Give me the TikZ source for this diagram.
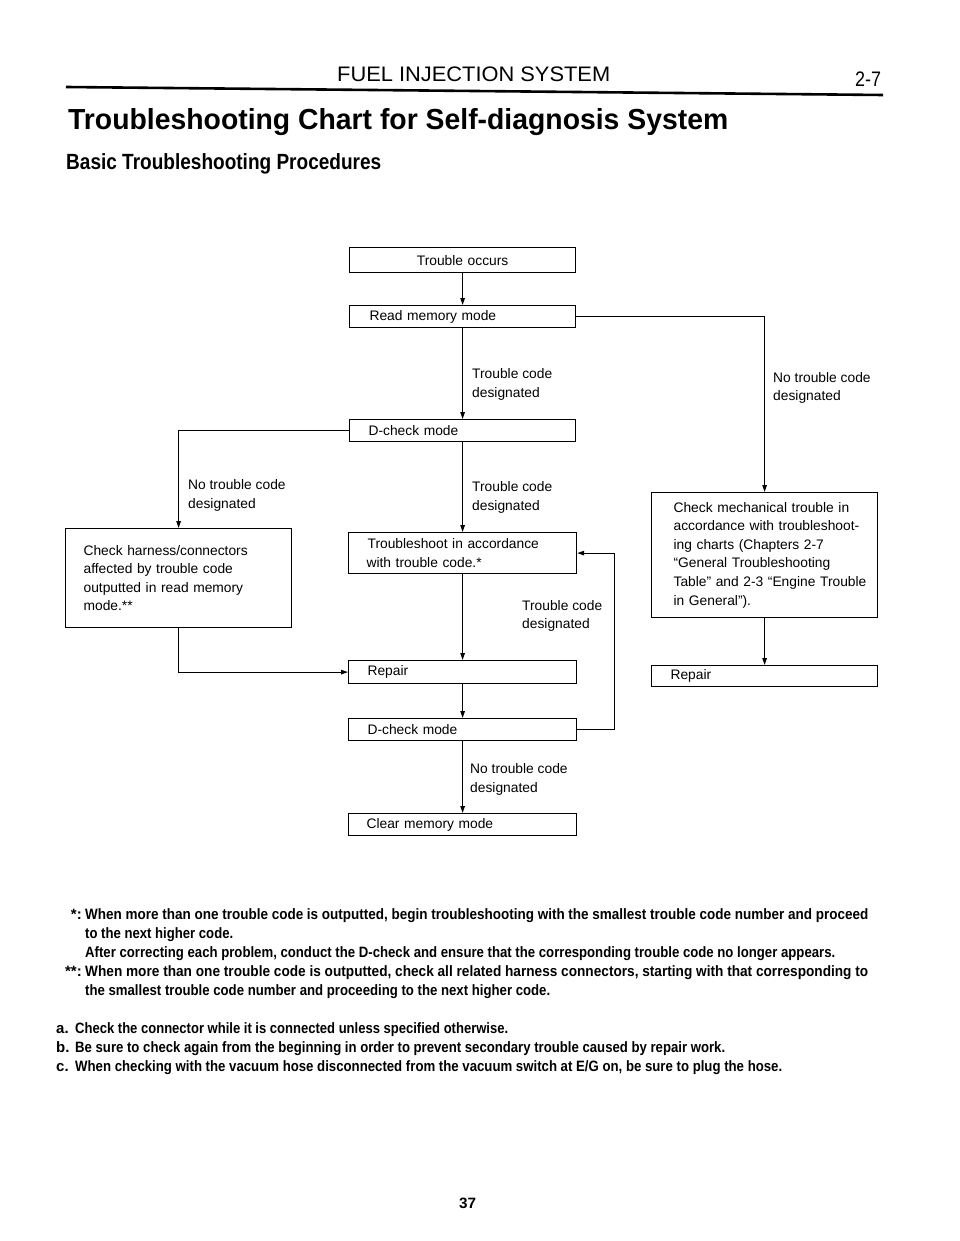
\documentclass[tikz,border=0pt]{standalone}
\usepackage{fontspec}
\setmainfont{Liberation Sans}
\usepackage{graphicx}
\usetikzlibrary{arrows.meta}
\newcommand\fitw[2]{\resizebox{#1pt}{\height}{#2}}
\newcommand\ind[1]{\hspace*{#1pt}}
\begin{document}
\begin{tikzpicture}[x=1pt,y=-1pt,
  box/.style={draw, line width=1.2pt, anchor=north west, inner sep=0pt, align=left,
              font=\fontsize{13.8}{18.6}\selectfont},
  arr/.style={line width=1.2pt, -{Triangle[length=7pt,width=4.5pt]}},
  lbl/.style={anchor=base west, inner sep=0pt, font=\fontsize{13.8}{18.6}\selectfont},
  fn/.style={anchor=base west, inner sep=0pt, font=\fontsize{15}{19}\selectfont\bfseries},
  head/.style={anchor=base west, inner sep=0pt}]
\fill[white] (0,0) rectangle (960,1241);
\useasboundingbox (0,0) rectangle (960,1241);

% header
\node[head, font=\fontsize{21}{21}\selectfont] (hdr) at (337,82) {\fitw{273}{FUEL INJECTION SYSTEM}};
\node[head, font=\fontsize{21}{21}\selectfont] (pg) at (855,87) {\fitw{26}{2-7}};
\coordinate (rl) at (66,87);
\coordinate (rr) at (883,95);
\draw[line width=2.6pt] (rl) -- (rr);
\node[head, font=\fontsize{29}{29}\selectfont\bfseries] (ttl) at (68,130) {\fitw{660}{Troubleshooting Chart for Self-diagnosis System}};
\node[head, font=\fontsize{22}{22}\selectfont\bfseries] (sub) at (66,170) {\fitw{315}{Basic Troubleshooting Procedures}};

% boxes
\node[box, text width=226pt, minimum height=25pt, align=center] (occ) at (349,247) {Trouble occurs};
\node[box, text width=226pt, minimum height=22pt] (rmm) at (349,305) {\ind{20}Read memory mode};
\node[box, text width=226pt, minimum height=22pt] (dc1) at (349,419) {\ind{19}D-check mode};
\node[box, text width=228pt, minimum height=41pt] (ts) at (348,532) {\ind{19}Troubleshoot in accordance\\\ind{18}with trouble code.*};
\node[box, text width=228pt, minimum height=23pt] (rep1) at (348,660) {\ind{19}Repair};
\node[box, text width=228pt, minimum height=22pt] (dc2) at (348,718) {\ind{19}D-check mode};
\node[box, text width=228pt, minimum height=22pt] (clr) at (348,813) {\ind{18}Clear memory mode};
\node[box, text width=226pt, minimum height=99pt] (harn) at (65,528) {\ind{18}Check harness/connectors\\\ind{18}affected by trouble code\\\ind{18}outputted in read memory\\\ind{18}mode.**};
\node[box, text width=226pt, minimum height=125pt] (mech) at (651,492) {\ind{22}Check mechanical trouble in\\\ind{22}accordance with troubleshoot-\\\ind{22}ing charts (Chapters 2-7\\\ind{22}``General Troubleshooting\\\ind{22}Table'' and 2-3 ``Engine Trouble\\\ind{22}in General'').};
\node[box, text width=226pt, minimum height=21pt] (rep2) at (651,665) {\ind{19}Repair};

% connectors
\draw[arr] (occ.south) -- (rmm.north);
\draw[arr] (rmm.south) -- (dc1.north);
\draw[arr] (rmm.east) -| (mech.north);
\draw[arr] (dc1.west) -| (harn.north);
\draw[arr] (dc1.south) -- (ts.north);
\draw[arr] (ts.south) -- (rep1.north);
\draw[arr] (harn.south) |- (rep1.west);
\draw[arr] (rep1.south) -- (dc2.north);
\draw[arr] (dc2.east) -- ++(37,0) |- (ts.east);
\draw[arr] (dc2.south) -- (clr.north);
\draw[arr] (mech.south) -- (rep2.north);

% connector labels
\node[lbl] (la1) at (472,378) {Trouble code};
\node[lbl] (la2) at (472,397) {designated};
\node[lbl] (lb1) at (773,382) {No trouble code};
\node[lbl] (lb2) at (773,400) {designated};
\node[lbl] (lc1) at (188,489) {No trouble code};
\node[lbl] (lc2) at (188,508) {designated};
\node[lbl] (ld1) at (472,491) {Trouble code};
\node[lbl] (ld2) at (472,510) {designated};
\node[lbl] (le1) at (522,610) {Trouble code};
\node[lbl] (le2) at (522,628) {designated};
\node[lbl] (lf1) at (470,773) {No trouble code};
\node[lbl] (lf2) at (470,792) {designated};

% footnotes
\node[fn, anchor=base east] (s1) at (82,919) {*:};
\node[fn] (f1) at (85,919) {\fitw{783}{When more than one trouble code is outputted, begin troubleshooting with the smallest trouble code number and proceed}};
\node[fn] (f2) at (85,938) {\fitw{148}{to the next higher code.}};
\node[fn] (f3) at (85,957) {\fitw{750}{After correcting each problem, conduct the D-check and ensure that the corresponding trouble code no longer appears.}};
\node[fn, anchor=base east] (s2) at (82,976) {**:};
\node[fn] (f4) at (85,976) {\fitw{783}{When more than one trouble code is outputted, check all related harness connectors, starting with that corresponding to}};
\node[fn] (f5) at (85,995) {\fitw{465}{the smallest trouble code number and proceeding to the next higher code.}};
\node[fn] (ma) at (56,1033) {a.};
\node[fn] (fa) at (75,1033) {\fitw{433}{Check the connector while it is connected unless specified otherwise.}};
\node[fn] (mb) at (56,1052) {b.};
\node[fn] (fb) at (75,1052) {\fitw{650}{Be sure to check again from the beginning in order to prevent secondary trouble caused by repair work.}};
\node[fn] (mc) at (56,1071) {c.};
\node[fn] (fc) at (75,1071) {\fitw{707}{When checking with the vacuum hose disconnected from the vacuum switch at E/G on, be sure to plug the hose.}};

% page number
\node[head, font=\fontsize{15}{15}\selectfont\bfseries] (pgn) at (459,1208) {\fitw{17}{37}};
\end{tikzpicture}
\end{document}
